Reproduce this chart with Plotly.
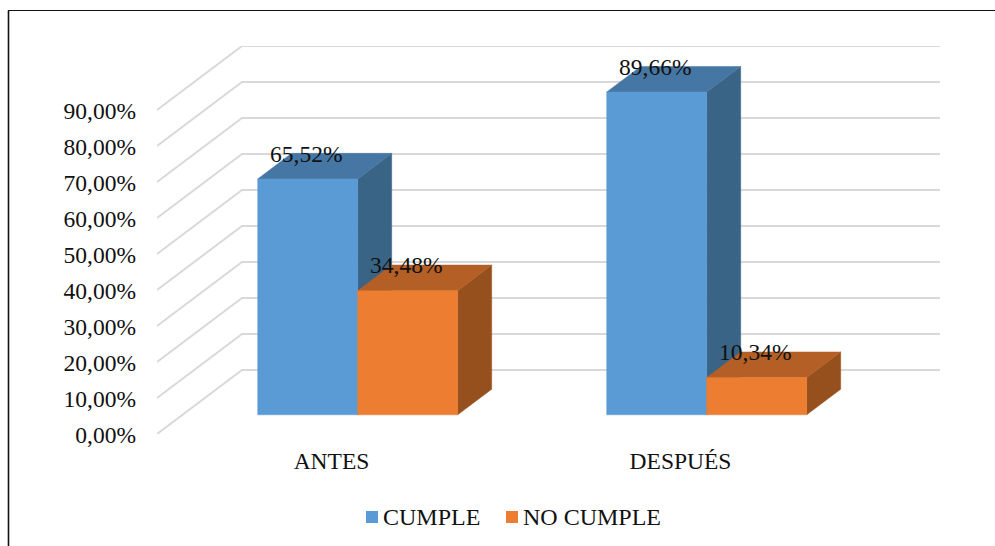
import plotly.graph_objects as go

# Chart values
categories = ["ANTES", "DESPUÉS"]
series_names = ["CUMPLE", "NO CUMPLE"]
cumple = [65.52, 89.66]
no_cumple = [34.48, 10.34]
tick_values = [0, 10, 20, 30, 40, 50, 60, 70, 80, 90]

WIDTH, HEIGHT = 995, 546
FONT = "Liberation Serif"
TEXT = "#111111"
GRID = "#d9d9d9"

# Fake 3D projection, expressed in axis units: moving one full depth back
# shifts a point right along x and up along y.
DEPTH_X = 0.2436
DEPTH_Y = 17.78
BAR_FRONT, BAR_BACK = 0.30, 0.70
BAR_WIDTH = 0.2865
BAR_NUDGE = 0.002

# Plot area in pixels; the y axis sits on the front plane.
LEFT, RIGHT, TOP, BOTTOM = 157, 940, 46, 434
X_RANGE = [-0.5, 1.5 + DEPTH_X]
Y_RANGE = [0, DEPTH_Y + 90]

palettes = [
    {"front": "#5b9bd5", "top": "#4676a4", "side": "#3a6486"},
    {"front": "#ed7d31", "top": "#b35f26", "side": "#96501d"},
]


def project(x, y, depth):
    return x + DEPTH_X * depth, y + DEPTH_Y * depth


def polygon(points, color):
    xs = [p[0] for p in points] + [points[0][0]]
    ys = [p[1] for p in points] + [points[0][1]]
    return go.Scatter(
        x=xs, y=ys, mode="lines", fill="toself", fillcolor=color,
        line=dict(color=color, width=0.5), hoverinfo="skip",
        showlegend=False, cliponaxis=False,
    )


def bar_faces(x0, x1, value, colors):
    fl = project(x0, 0, BAR_FRONT)
    fr = project(x1, 0, BAR_FRONT)
    ftl = project(x0, value, BAR_FRONT)
    ftr = project(x1, value, BAR_FRONT)
    br = project(x1, 0, BAR_BACK)
    btl = project(x0, value, BAR_BACK)
    btr = project(x1, value, BAR_BACK)
    return [
        polygon([ftr, fr, br, btr], colors["side"]),
        polygon([ftl, ftr, btr, btl], colors["top"]),
        polygon([fl, fr, ftr, ftl], colors["front"]),
    ]


fig = go.Figure()

# Side wall and back wall gridlines, one polyline per tick value
grid_x, grid_y = [], []
for v in tick_values:
    back_left = project(-0.5, v, 1)
    back_right = project(1.5, v, 1)
    grid_x += [-0.5, back_left[0], back_right[0], None]
    grid_y += [v, back_left[1], back_right[1], None]
fig.add_trace(go.Scatter(
    x=grid_x, y=grid_y, mode="lines", line=dict(color=GRID, width=2),
    hoverinfo="skip", showlegend=False, cliponaxis=False,
))

# Boxes, drawn left to right so that later boxes cover earlier side faces.
# Each value label sits over the front centre of its box, level with the back top edge.
labels_x, labels_y, labels_text = [], [], []
for i in range(len(categories)):
    for s, values in enumerate([cumple, no_cumple]):
        x0 = i + (s - 1) * BAR_WIDTH + BAR_NUDGE
        x1 = x0 + BAR_WIDTH
        for trace in bar_faces(x0, x1, values[i], palettes[s]):
            fig.add_trace(trace)
        labels_x.append(project((x0 + x1) / 2 - 0.004, values[i], BAR_FRONT)[0])
        labels_y.append(project((x0 + x1) / 2, values[i], BAR_BACK)[1] - 0.7)
        labels_text.append(f"{values[i]:.2f}".replace(".", ",") + "%")

fig.add_trace(go.Scatter(
    x=labels_x, y=labels_y, text=labels_text, mode="text",
    textposition="middle center",
    textfont=dict(family=FONT, size=23.5, color=TEXT),
    hoverinfo="skip", showlegend=False, cliponaxis=False,
))


def paper_x(px):
    return (px - LEFT) / (RIGHT - LEFT)


def paper_y(py):
    return (BOTTOM - py) / (BOTTOM - TOP)


# Outer frame: only the left and top edges are drawn
shapes = [
    dict(type="line", xref="paper", yref="paper", x0=paper_x(8.5), x1=paper_x(8.5),
         y0=paper_y(10.5), y1=paper_y(HEIGHT), line=dict(color="#111111", width=1.6)),
    dict(type="line", xref="paper", yref="paper", x0=paper_x(8), x1=paper_x(WIDTH),
         y0=paper_y(10.5), y1=paper_y(10.5), line=dict(color="#111111", width=1.2)),
]

# Legend row along the bottom: swatch followed by its series name
annotations = []
for name, colors, swatch_left in zip(series_names, palettes, [366, 506]):
    shapes.append(dict(
        type="rect", xref="paper", yref="paper",
        x0=paper_x(swatch_left), x1=paper_x(swatch_left + 12),
        y0=paper_y(511), y1=paper_y(523),
        fillcolor=colors["front"], line=dict(width=0),
    ))
    annotations.append(dict(
        text=name, xref="paper", yref="paper", showarrow=False,
        x=paper_x(swatch_left + 17), y=paper_y(517),
        xanchor="left", yanchor="middle", xshift=-2,
        font=dict(family=FONT, size=24, color=TEXT),
    ))

fig.update_layout(
    width=WIDTH, height=HEIGHT, autosize=False,
    margin=dict(l=LEFT, r=WIDTH - RIGHT, t=TOP, b=HEIGHT - BOTTOM, pad=0),
    paper_bgcolor="white", plot_bgcolor="rgba(0,0,0,0)",
    showlegend=False, shapes=shapes, annotations=annotations,
    xaxis=dict(
        range=X_RANGE, tickmode="array", tickvals=list(range(len(categories))),
        ticktext=categories, showgrid=False, zeroline=False, showline=False,
        ticks="", ticklabelstandoff=10,
        tickfont=dict(family=FONT, size=23.5, color=TEXT), automargin=False,
    ),
    yaxis=dict(
        range=Y_RANGE, tickmode="array", tickvals=tick_values,
        ticktext=[f"{v:.2f}".replace(".", ",") + "%" for v in tick_values],
        showgrid=False, zeroline=False, showline=False,
        ticks="", ticklabelstandoff=20, ticklabelshift=1,
        tickfont=dict(family=FONT, size=23.5, color=TEXT), automargin=False,
    ),
)

fig.write_html("out.html")
